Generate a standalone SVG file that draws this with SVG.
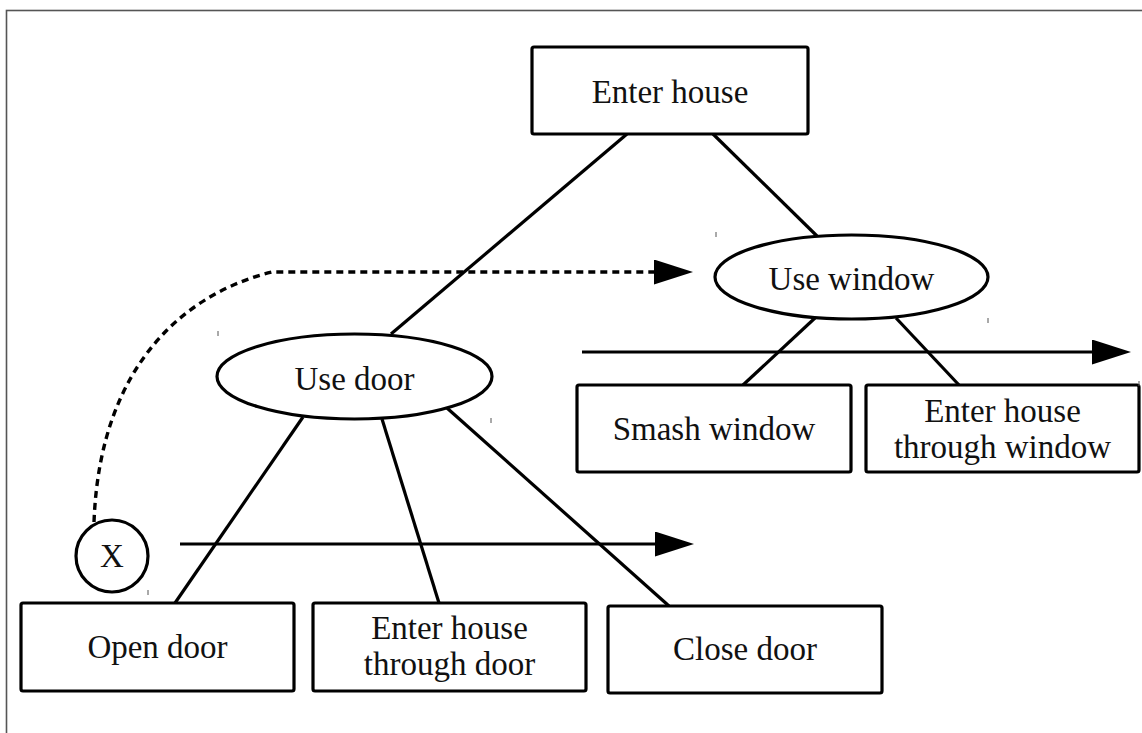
<svg xmlns="http://www.w3.org/2000/svg" width="1142" height="733" viewBox="0 0 1142 733">
<style>
.box{fill:#fff;stroke:#000;stroke-width:3.2}
.lbl{font-family:"Liberation Serif","Times New Roman",serif;font-size:33px;fill:#111;text-anchor:middle}
.ln{stroke:#000;stroke-width:3.2;fill:none}
.dash{stroke:#000;stroke-width:3.4;fill:none;stroke-dasharray:7 5}
.tick{stroke:#555;stroke-width:1}
</style>
<defs>
<marker id="ah" markerUnits="userSpaceOnUse" markerWidth="40" markerHeight="26" refX="0" refY="12.5" orient="auto">
<path d="M0,0 L39,12.5 L0,25 z" fill="#000"/>
</marker>
</defs>
<rect x="0" y="0" width="1142" height="733" fill="#fff"/>
<rect x="6.5" y="10.5" width="1200" height="800" fill="none" stroke="#555" stroke-width="1.6"/>
<g id="connectors">
<line class="ln" x1="627" y1="134" x2="391" y2="334"/>
<line class="ln" x1="713" y1="134" x2="817" y2="236"/>
<line class="ln" x1="815" y1="318" x2="743" y2="385"/>
<line class="ln" x1="896" y1="318" x2="959" y2="385"/>
<line class="ln" x1="303" y1="417" x2="175" y2="603"/>
<line class="ln" x1="382" y1="419" x2="439" y2="603"/>
<line class="ln" x1="447" y1="408" x2="669" y2="606"/>
<line class="ln" x1="582" y1="352" x2="1092" y2="352" marker-end="url(#ah)"/>
<line class="ln" x1="180" y1="544" x2="655" y2="544" marker-end="url(#ah)"/>
<path class="dash" d="M94 522 C100 360 190 292 272 272 L654 272" marker-end="url(#ah)"/>
</g>
<g id="enter-house">
<rect class="box" x="532" y="47" width="276" height="87" rx="2"/>
<text class="lbl" x="670" y="103">Enter house</text>
</g>
<g id="use-window">
<ellipse class="box" cx="851.5" cy="277" rx="136.5" ry="42"/>
<text class="lbl" x="851.5" y="290">Use window</text>
</g>
<g id="use-door">
<ellipse class="box" cx="354.5" cy="376.5" rx="137.5" ry="42.5"/>
<text class="lbl" x="354.5" y="390">Use door</text>
</g>
<g id="smash-window">
<rect class="box" x="577" y="385" width="274" height="87" rx="2"/>
<text class="lbl" x="714" y="440">Smash window</text>
</g>
<g id="enter-through-window">
<rect class="box" x="866" y="385" width="273" height="87" rx="2"/>
<text class="lbl" x="1002.5" y="422">Enter house</text>
<text class="lbl" x="1002.5" y="458">through window</text>
</g>
<g id="x-node">
<circle class="box" cx="112" cy="556" r="36"/>
<text class="lbl" x="112" y="567">X</text>
</g>
<g id="open-door">
<rect class="box" x="21" y="603" width="273" height="88" rx="2"/>
<text class="lbl" x="157.5" y="658">Open door</text>
</g>
<g id="enter-through-door">
<rect class="box" x="313" y="603" width="273" height="88" rx="2"/>
<text class="lbl" x="449.5" y="639">Enter house</text>
<text class="lbl" x="449.5" y="675">through door</text>
</g>
<g id="close-door">
<rect class="box" x="608" y="606" width="274" height="87" rx="2"/>
<text class="lbl" x="745" y="660">Close door</text>
</g>
<g id="ticks">
<line class="tick" x1="716" y1="232" x2="716" y2="237"/>
<line class="tick" x1="988" y1="318" x2="988" y2="323"/>
<line class="tick" x1="218" y1="331" x2="218" y2="336"/>
<line class="tick" x1="491" y1="418" x2="491" y2="423"/>
<line class="tick" x1="148" y1="590" x2="148" y2="595"/>
<line class="tick" x1="1139" y1="381" x2="1139" y2="386"/>
</g>
</svg>
